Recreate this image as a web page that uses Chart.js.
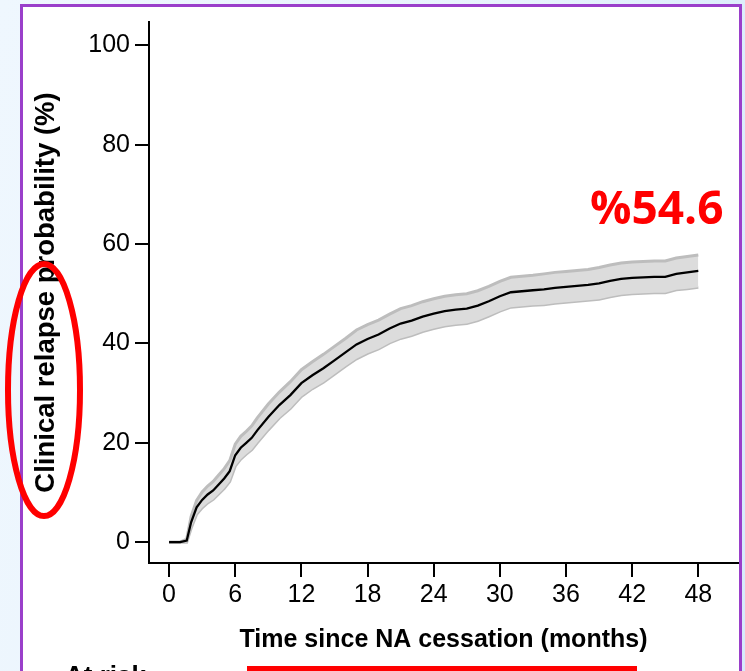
<!DOCTYPE html>
<html>
<head>
<meta charset="utf-8">
<script src="https://cdn.jsdelivr.net/npm/chart.js@4/dist/chart.umd.min.js"></script>
<style>
  html, body { margin: 0; padding: 0; }
  body {
    width: 745px; height: 671px; overflow: hidden; position: relative;
    background: linear-gradient(100deg, #eff7fe 0%, #e7f3fc 60%, #d7ebfa 100%);
  }
  #painel {
    position: absolute; left: 20px; top: 4px; width: 716px; height: 700px;
    border: 3px solid #9a3fca; background: #fff;
  }
  #grafico { position: absolute; left: 0; top: 0; }
</style>
</head>
<body>
<div id="painel"></div>
<canvas id="grafico" width="745" height="671"></canvas>
<script>
// Dados (meses desde a suspensão, probabilidade de recaída em %)
const meses = [0, 1, 1.6, 2, 2.5, 3, 3.5, 4, 4.5, 5, 5.5, 6, 6.5, 7, 7.5, 8, 9, 10, 11, 12,
  13, 14, 15, 16, 17, 18, 19, 20, 21, 22, 23, 24, 25, 26, 27, 28, 29, 30,
  31, 32, 33, 34, 35, 36, 37, 38, 39, 40, 41, 42, 43, 44, 45, 46, 47, 48];
const recaida = [0, 0, 0.3, 4, 7, 8.5, 9.6, 10.4, 11.6, 12.8, 14.3, 17.5, 19, 20, 21, 22.5, 25.2, 27.6, 29.6, 32,
  33.6, 35, 36.6, 38.2, 39.8, 40.9, 41.8, 43, 44, 44.6, 45.4, 46, 46.5, 46.8, 47, 47.6, 48.5, 49.5,
  50.3, 50.5, 50.7, 50.9, 51.2, 51.4, 51.6, 51.8, 52.1, 52.6, 53.0, 53.2, 53.3, 53.4, 53.4, 54.0, 54.3, 54.6];
const icInferior = [0, 0, 0, 2.8, 5.6, 6.9, 7.9, 8.6, 9.7, 10.8, 12.2, 15.3, 16.7, 17.7, 18.6, 20.0, 22.6, 25.0, 26.9, 29.3,
  30.9, 32.2, 33.8, 35.4, 36.9, 38.0, 38.9, 40.1, 41.0, 41.6, 42.4, 43.0, 43.5, 43.8, 44.0, 44.6, 45.5, 46.5,
  47.3, 47.5, 47.7, 47.8, 48.1, 48.3, 48.5, 48.7, 48.9, 49.4, 49.8, 50.0, 50.1, 50.2, 50.2, 50.8, 51.0, 51.3];
const icSuperior = [0, 0, 0.6, 5.2, 8.4, 10.1, 11.3, 12.2, 13.5, 14.8, 16.4, 19.7, 21.3, 22.3, 23.4, 25.0, 27.8, 30.2, 32.3, 34.7,
  36.3, 37.8, 39.4, 41.0, 42.7, 43.8, 44.7, 45.9, 47.0, 47.6, 48.4, 49.0, 49.5, 49.8, 50.0, 50.6, 51.5, 52.5,
  53.3, 53.5, 53.7, 54.0, 54.3, 54.5, 54.7, 54.9, 55.3, 55.8, 56.2, 56.4, 56.5, 56.6, 56.6, 57.2, 57.5, 57.8];
const ticksX = [0, 6, 12, 18, 24, 30, 36, 42, 48];
const ticksY = [0, 20, 40, 60, 80, 100];

function pontos(valores) {
  let lista = [];
  for (let i = 0; i < meses.length; i++) {
    lista.push({ x: meses[i], y: valores[i] });
  }
  return lista;
}

// Anotações em vermelho e texto cortado no rodapé
const anotacoes = {
  id: 'anotacoes',
  afterDraw(chart) {
    const ctx = chart.ctx;
    ctx.save();
    ctx.fillStyle = '#ff0000';
    ctx.font = 'bold 46px "Open Sans"';
    ctx.textBaseline = 'alphabetic';
    ctx.textAlign = 'left';
    ctx.fillText('%54.6', 590, 224);

    ctx.strokeStyle = '#ff0000';
    ctx.lineWidth = 6;
    ctx.beginPath();
    ctx.ellipse(44, 390, 36, 126, 0, 0, Math.PI * 2);
    ctx.stroke();

    ctx.fillRect(247, 666, 390, 6);

    ctx.fillStyle = '#000';
    ctx.font = 'bold 26px "Liberation Sans"';
    ctx.fillText('At risk', 65, 684);
    ctx.restore();
  }
};

const eixoComum = {
  border: { display: true, color: '#000', width: 2 },
  grid: { drawOnChartArea: false, drawTicks: true, tickLength: 14, color: '#000', lineWidth: 2 }
};

const config = {
  type: 'line',
  data: {
    datasets: [
      {
        data: pontos(icSuperior),
        borderColor: '#bdbdbd',
        borderWidth: 3,
        backgroundColor: '#dcdcdc',
        fill: '+1',
        pointRadius: 0,
        tension: 0,
        order: 2
      },
      {
        data: pontos(icInferior),
        borderColor: '#bdbdbd',
        borderWidth: 3,
        fill: false,
        pointRadius: 0,
        tension: 0,
        order: 2
      },
      {
        data: pontos(recaida),
        borderColor: '#000',
        borderWidth: 2.3,
        fill: false,
        pointRadius: 0,
        tension: 0,
        order: 0
      }
    ]
  },
  options: {
    responsive: false,
    animation: false,
    layout: { padding: { left: 0, right: 7, top: 22, bottom: 0 } },
    plugins: { legend: { display: false }, tooltip: { enabled: false } },
    scales: {
      x: {
        type: 'linear',
        min: -1.82,
        max: 51.6,
        ...eixoComum,
        ticks: { color: '#000', padding: 3, font: { family: 'Liberation Sans', size: 25 } },
        title: {
          display: true,
          text: 'Time since NA cessation (months)',
          color: '#000',
          font: { family: 'Liberation Sans', size: 25, weight: 'bold' },
          padding: { top: 0, bottom: 16 }
        },
        afterBuildTicks: (scale) => { scale.ticks = ticksX.map(v => ({ value: v })); },
        afterFit: (scale) => {
          scale.height = 108;
          scale.paddingLeft = 0; scale.paddingRight = 0;
          scale.paddingTop = 0; scale.paddingBottom = 0;
        }
      },
      y: {
        min: -4.2,
        max: 104.7,
        ...eixoComum,
        ticks: { color: '#000', padding: 5, font: { family: 'Liberation Sans', size: 25 } },
        title: {
          display: true,
          text: 'Clinical relapse probability (%)',
          color: '#000',
          font: { family: 'Liberation Sans', size: 27.5, weight: 'bold' },
          padding: { top: 30, bottom: 0 }
        },
        afterBuildTicks: (scale) => { scale.ticks = ticksY.map(v => ({ value: v })); },
        afterFit: (scale) => {
          scale.width = 149;
          scale.paddingLeft = 0; scale.paddingRight = 0;
          scale.paddingTop = 0; scale.paddingBottom = 0;
        }
      }
    }
  },
  plugins: [anotacoes]
};

let graficoRecaida = new Chart(document.getElementById('grafico'), config);
</script>
</body>
</html>
